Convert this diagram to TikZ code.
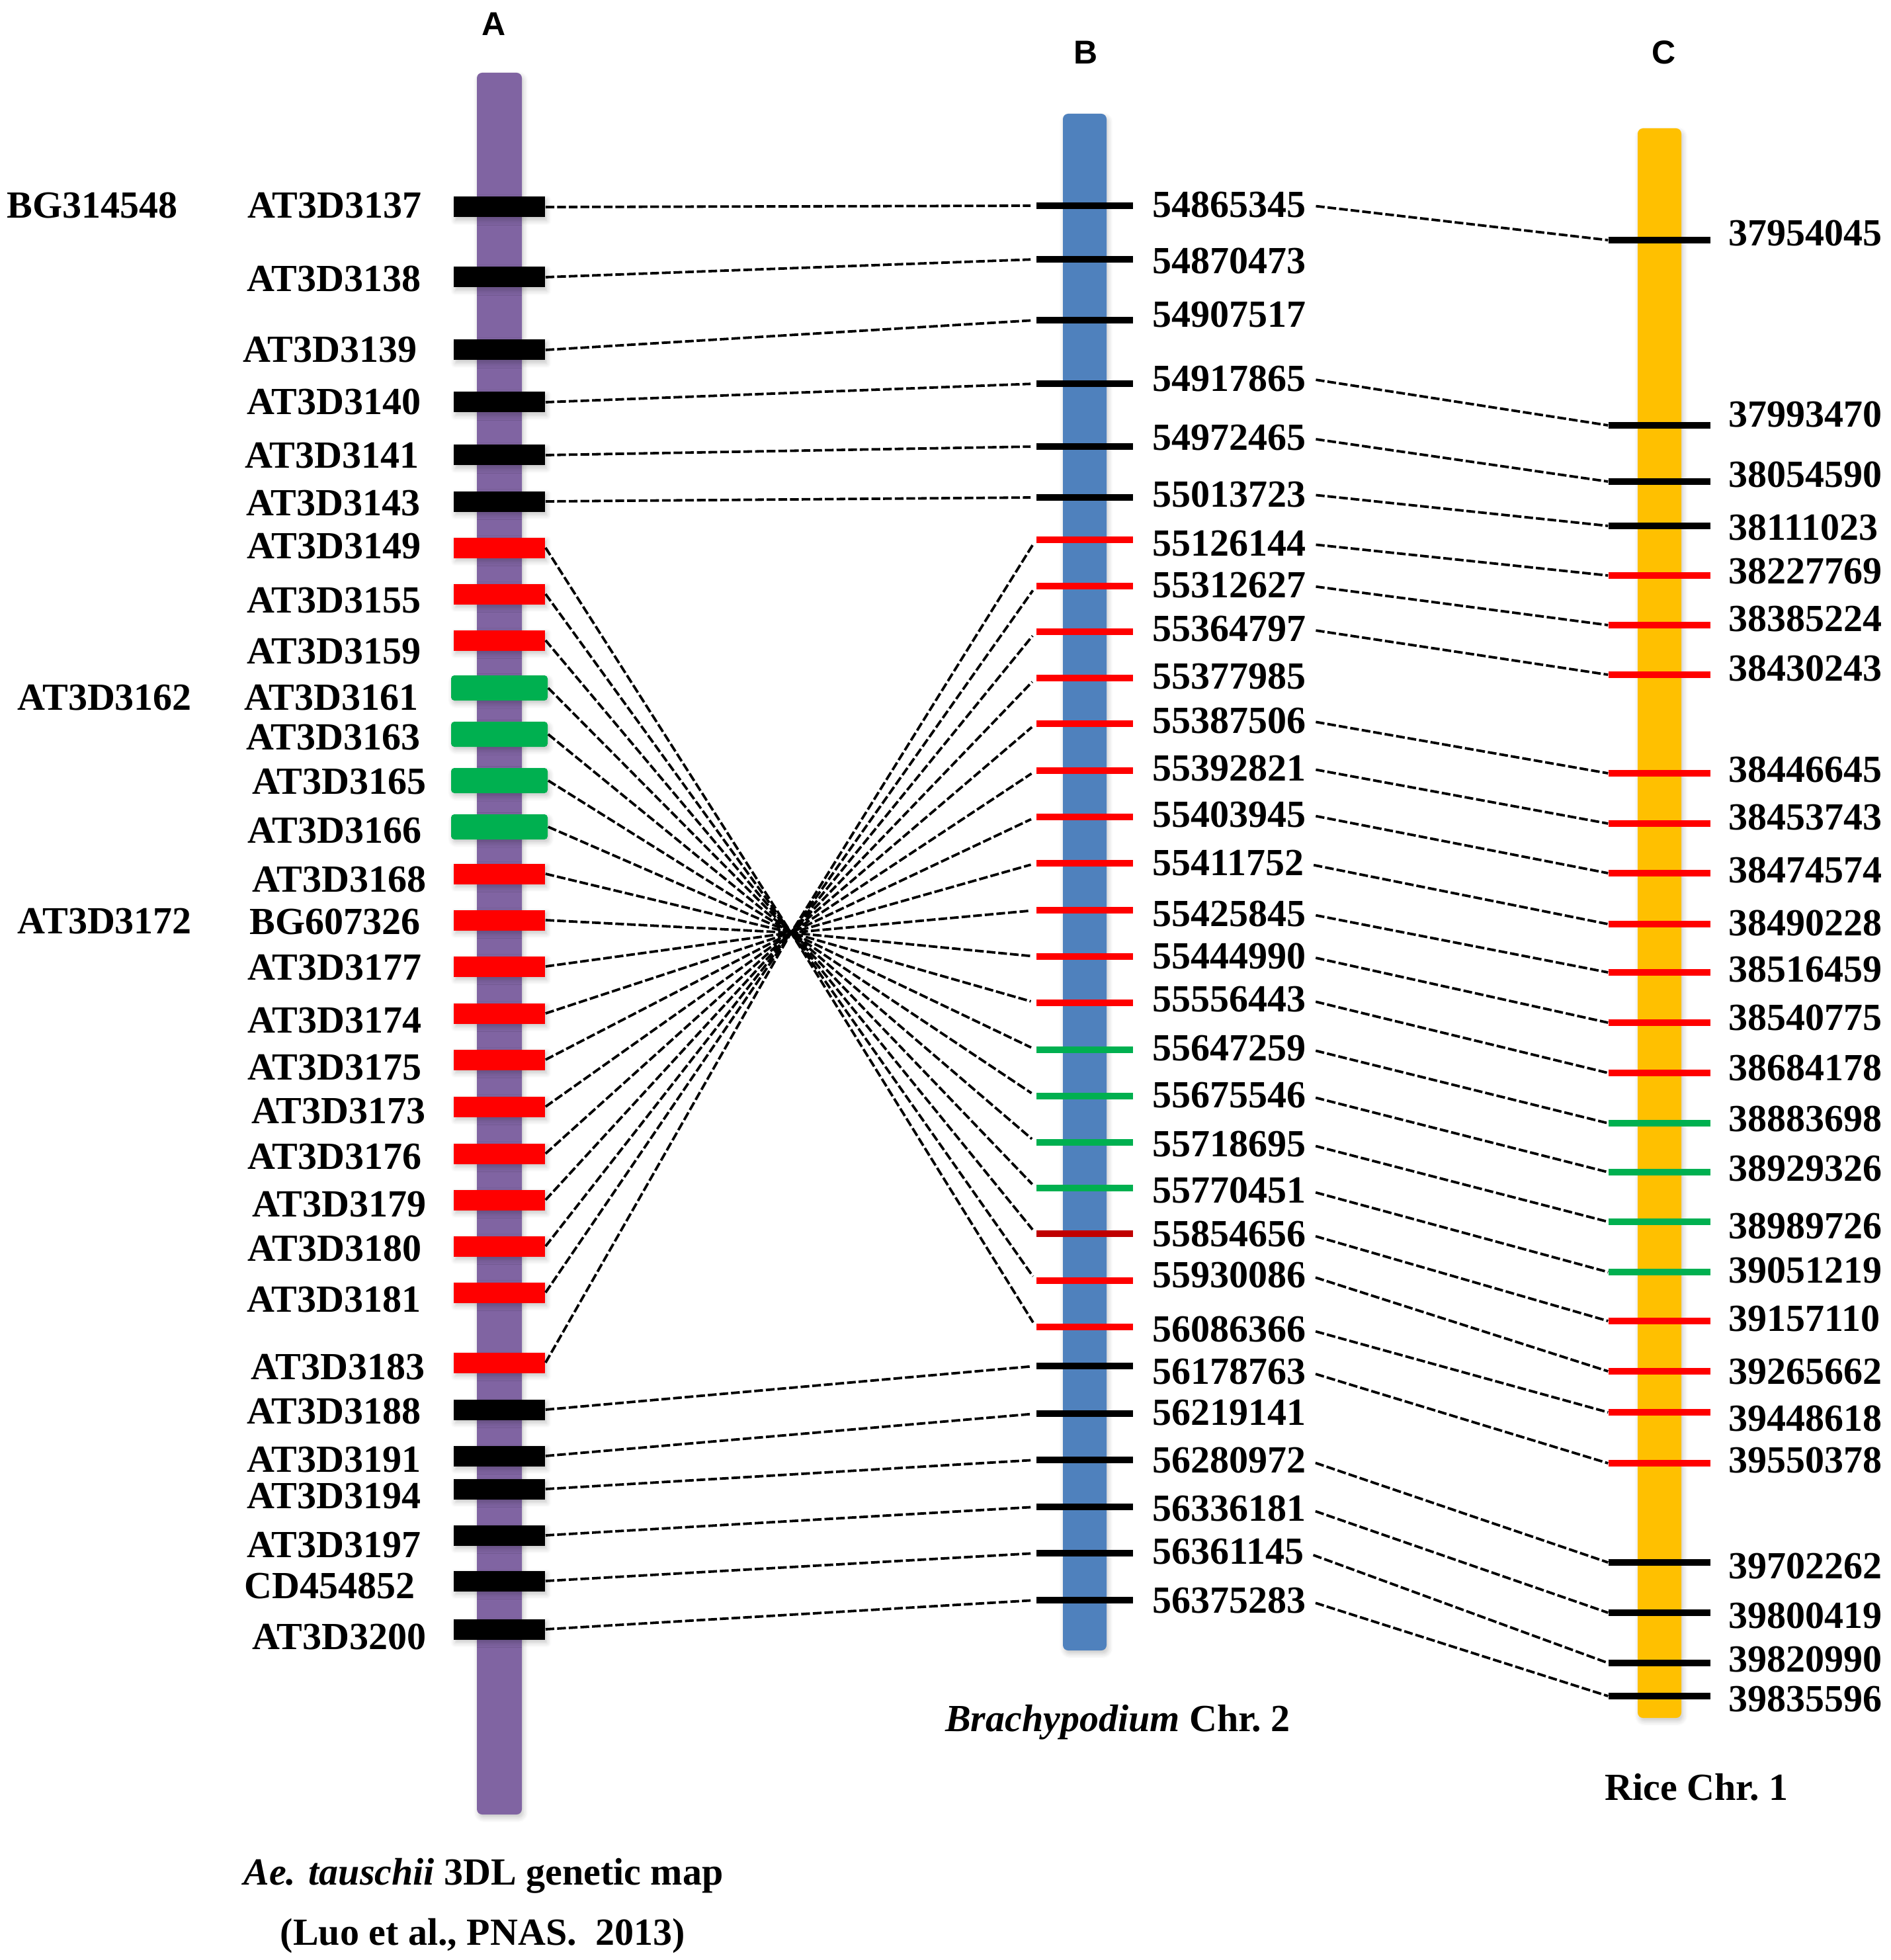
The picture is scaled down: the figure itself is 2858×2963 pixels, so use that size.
\documentclass[tikz,border=0pt]{standalone}
\usepackage{fontspec}
\setmainfont{Liberation Serif}
\newfontfamily\arialf{Liberation Sans}
\usetikzlibrary{shadows.blur}
\definecolor{chrA}{HTML}{8064A2}
\definecolor{chrB}{HTML}{4F81BD}
\definecolor{chrC}{HTML}{FFC000}
\definecolor{mred}{HTML}{FF0000}
\definecolor{mgreen}{HTML}{00B050}
\definecolor{mdred}{HTML}{C00000}
\begin{document}
\begin{tikzpicture}[x=0.25pt,y=-0.25pt,
  lab/.style={font=\fontsize{14.5pt}{17pt}\selectfont\bfseries, inner sep=0pt},
  ttl/.style={font=\arialf\bfseries\fontsize{12.5pt}{15pt}\selectfont, inner sep=0pt},
  shd/.style={blur shadow={shadow xshift=0.6pt, shadow yshift=-1.2pt, shadow blur steps=6, shadow opacity=22}},
  chrom/.style={rounded corners=2pt, shd},
  amk/.style={rectangle, inner sep=0pt, minimum width=34.5pt, minimum height=7.75pt, shd},
  mkblk/.style={fill=black},
  mkred/.style={fill=mred},
  mkgrn/.style={fill=mgreen, minimum width=36.5pt, minimum height=9.5pt, rounded corners=1.2pt},
  btk/.style={rectangle, inner sep=0pt, minimum width=36.5pt, minimum height=2.4pt},
  ctk/.style={rectangle, inner sep=0pt, minimum width=38.5pt, minimum height=2.4pt},
  tkblk/.style={fill=black}, tkred/.style={fill=mred}, tkgrn/.style={fill=mgreen}, tkdrd/.style={fill=mdred},
  conn/.style={line width=0.95pt, dash pattern=on 3.3pt off 1.1pt}
]
\useasboundingbox (0,0) rectangle (2858,2963);

% chromosomes
\fill[chrA, chrom] (721,110) rectangle (789,2743);
\fill[chrB, chrom] (1607,172) rectangle (1673,2495);
\fill[chrC, chrom] (2476,194) rectangle (2542,2597);

% titles
\node[ttl] (tA) at (747,36) {A};
\node[ttl] (tB) at (1642,79) {B};
\node[ttl] (tC) at (2516,79) {C};

% A markers and labels
\foreach \i/\y/\c/\t/\lx/\ly in {
 1/313/blk/AT3D3137/638/311, 2/419/blk/AT3D3138/637/422, 3/529/blk/AT3D3139/631/529,
 4/608/blk/AT3D3140/637/607, 5/688/blk/AT3D3141/634/689, 6/758/blk/AT3D3143/636/761,
 7/828/red/AT3D3149/637/826, 8/898/red/AT3D3155/637/908, 9/968/red/AT3D3159/637/985,
 10/1040/grn/AT3D3161/633/1055, 11/1110/grn/AT3D3163/636/1115, 12/1180/grn/AT3D3165/645/1182,
 13/1250/grn/AT3D3166/638/1256, 14/1321/red/AT3D3168/645/1329, 15/1391/red/BG607326/636/1393,
 16/1461/red/AT3D3177/638/1463, 17/1532/red/AT3D3174/638/1543, 18/1602/red/AT3D3175/638/1614,
 19/1673/red/AT3D3173/644/1680, 20/1744/red/AT3D3176/638/1749, 21/1814/red/AT3D3179/645/1821,
 22/1884/red/AT3D3180/638/1887, 23/1954/red/AT3D3181/637/1964, 24/2060/red/AT3D3183/643/2066,
 25/2131/blk/AT3D3188/637/2133, 26/2201/blk/AT3D3191/637/2207, 27/2251/blk/AT3D3194/637/2262,
 28/2321/blk/AT3D3197/637/2336, 29/2390/blk/CD454852/628/2397, 30/2463/blk/AT3D3200/645/2474}
{
  \node[amk, mk\c] (am\i) at (755,\y) {};
  \node[lab, anchor=east] (al\i) at (\lx,\ly) {\t};
}
\node[lab, anchor=west] (x1) at (10,311) {BG314548};
\node[lab, anchor=west] (x2) at (26,1055) {AT3D3162};
\node[lab, anchor=west] (x3) at (26,1393) {AT3D3172};

% B ticks and labels
\foreach \i/\y/\c/\t/\ly in {
 1/311/blk/54865345/310, 2/392/blk/54870473/395, 3/484/blk/54907517/476,
 4/580/blk/54917865/572, 5/675/blk/54972465/662, 6/752/blk/55013723/747,
 7/816/red/55126144/822, 8/886/red/55312627/885, 9/955/red/55364797/951,
 10/1025/red/55377985/1022, 11/1094/red/55387506/1089, 12/1165/red/55392821/1161,
 13/1235/red/55403945/1231, 14/1305/red/55411752/1305, 15/1376/red/55425845/1381,
 16/1446/red/55444990/1445, 17/1516/red/55556443/1511, 18/1587/grn/55647259/1585,
 19/1657/grn/55675546/1656, 20/1727/grn/55718695/1729, 21/1796/grn/55770451/1799,
 22/1865/drd/55854656/1865, 23/1936/red/55930086/1927, 24/2006/red/56086366/2009,
 25/2065/blk/56178763/2073, 26/2137/blk/56219141/2136, 27/2207/blk/56280972/2207,
 28/2278/blk/56336181/2280, 29/2348/blk/56361145/2346, 30/2419/blk/56375283/2419}
{
  \node[btk, tk\c] (bt\i) at (1640,\y) {};
  \node[lab, anchor=west] (bl\i) at (1742,\ly) {\t};
}

% C ticks and labels
\foreach \i/\y/\c/\t/\ly in {
 1/363/blk/37954045/353, 2/643/blk/37993470/627, 3/728/blk/38054590/717,
 4/795/blk/38111023/797, 5/870/red/38227769/863, 6/945/red/38385224/935,
 7/1020/red/38430243/1010, 8/1169/red/38446645/1163, 9/1245/red/38453743/1235,
 10/1320/red/38474574/1315, 11/1397/red/38490228/1395, 12/1470/red/38516459/1465,
 13/1546/red/38540775/1538, 14/1622/red/38684178/1614, 15/1698/grn/38883698/1691,
 16/1772/grn/38929326/1766, 17/1847/grn/38989726/1853, 18/1923/grn/39051219/1920,
 19/1997/red/39157110/1993, 20/2073/red/39265662/2074, 21/2135/red/39448618/2144,
 22/2212/red/39550378/2207, 23/2362/blk/39702262/2367, 24/2438/blk/39800419/2442,
 25/2514/blk/39820990/2508, 26/2564/blk/39835596/2568}
{
  \node[ctk, tk\c] (ct\i) at (2509,\y) {};
  \node[lab, anchor=west] (cl\i) at (2613,\ly) {\t};
}

% captions
\node[lab, anchor=base] (capA1) at (731,2849) {\textit{Ae. tauschii} 3DL genetic map};
\node[lab, anchor=base] (capA2) at (730,2940) {(Luo et al., PNAS.\ \ 2013)};
\node[lab, anchor=base] (capB) at (1690,2617) {\textit{Brachypodium} Chr.\ 2};
\node[lab] (capC) at (2565,2702) {Rice Chr.\ 1};

% connectors A -> B
\coordinate (X) at (1196,1410);
\foreach \a/\b in {1/1,2/2,3/3,4/4,5/5,6/6,25/25,26/26,27/27,28/28,29/29,30/30}
  \draw[conn, shorten >=2pt] (am\a.east) -- (bt\b.west);
\foreach \a in {7,...,24} {
  \pgfmathtruncatemacro\b{31-\a}
  \draw[conn, shorten >=2pt] (am\a.east) -- (X) -- (bt\b.west);
}

% connectors B -> C
\foreach \b/\c in {1/1,4/2,5/3,6/4,7/5,8/6,9/7,11/8,12/9,13/10,14/11,15/12,16/13,17/14,
  18/15,19/16,20/17,21/18,22/19,23/20,24/21,25/22,27/23,28/24,29/25,30/26}
  \draw[conn, shorten <=3.5pt] (bl\b.east) -- (ct\c.west);
\end{tikzpicture}
\end{document}
